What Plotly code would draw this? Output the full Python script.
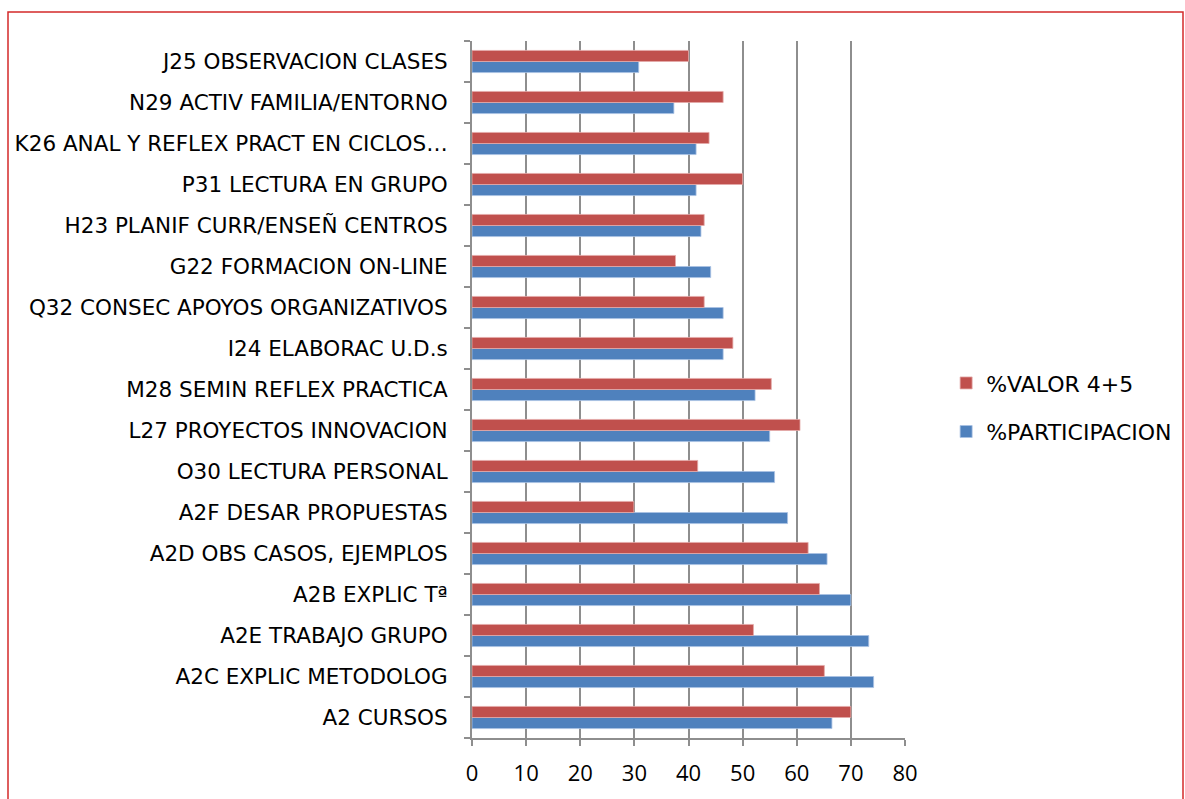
import plotly.graph_objects as go

# Categories listed bottom-to-top as they appear on the y axis
categories = [
    "A2 CURSOS",
    "A2C EXPLIC METODOLOG",
    "A2E TRABAJO GRUPO",
    "A2B EXPLIC Tª",
    "A2D OBS CASOS, EJEMPLOS",
    "A2F DESAR PROPUESTAS",
    "O30 LECTURA PERSONAL",
    "L27 PROYECTOS INNOVACION",
    "M28 SEMIN REFLEX PRACTICA",
    "I24 ELABORAC U.D.s",
    "Q32 CONSEC APOYOS ORGANIZATIVOS",
    "G22 FORMACION ON-LINE",
    "H23 PLANIF CURR/ENSEÑ CENTROS",
    "P31 LECTURA EN GRUPO",
    "K26 ANAL Y REFLEX PRACT EN CICLOS…",
    "N29 ACTIV FAMILIA/ENTORNO",
    "J25 OBSERVACION CLASES",
]

participacion = [66.5, 74.2, 73.3, 70.0, 65.6, 58.3, 55.9, 55.0, 52.3, 46.4,
                 46.4, 44.1, 42.3, 41.4, 41.4, 37.3, 30.8]
valor_4_5 = [70.0, 65.1, 52.0, 64.2, 62.1, 29.9, 41.7, 60.6, 55.3, 48.2,
             42.9, 37.6, 42.9, 50.0, 43.8, 46.4, 40.0]

x_ticks = [0, 10, 20, 30, 40, 50, 60, 70, 80]

FONT = "'DejaVu Sans', 'Open Sans', sans-serif"

fig = go.Figure()
fig.add_trace(go.Bar(
    y=categories, x=participacion, orientation="h", name="%PARTICIPACION",
    legendgroup="part", legendrank=2,
    marker=dict(color="#4F81BD", line=dict(color="#a9c2e3", width=0.8)),
))
fig.add_trace(go.Bar(
    y=categories, x=valor_4_5, orientation="h", name="%VALOR 4+5",
    legendgroup="valor", legendrank=1,
    marker=dict(color="#C0504D", line=dict(color="#e3aaa8", width=0.8)),
))

fig.update_layout(
    width=1185, height=799,
    margin=dict(l=472, r=280, t=41, b=61, autoexpand=False),
    paper_bgcolor="white", plot_bgcolor="white",
    barmode="group", bargap=0.46, bargroupgap=0,
    font=dict(family=FONT, size=21.5, color="#000000"),
    showlegend=True,
    legend=dict(
        traceorder="grouped",
        x=1.095, y=0.474, xanchor="left", yanchor="middle",
        font=dict(family=FONT, size=22, color="#000000"),
        itemwidth=30, tracegroupgap=17,
        bgcolor="rgba(0,0,0,0)",
    ),
    xaxis=dict(
        range=[0, 80], tickvals=x_ticks, ticktext=[str(v) for v in x_ticks],
        showgrid=True, gridcolor="#8e8e8e", gridwidth=2,
        showline=True, linecolor="#8e8e8e", linewidth=2,
        ticks="outside", ticklen=6, tickcolor="#8e8e8e", tickwidth=2,
        tickfont=dict(family="'Open Sans', sans-serif", size=22, color="#000000"),
        ticklabelstandoff=9,
        zeroline=False, fixedrange=True,
    ),
    yaxis=dict(
        categoryorder="array", categoryarray=categories,
        showline=True, linecolor="#8e8e8e", linewidth=2,
        ticks="outside", ticklen=6, tickcolor="#8e8e8e", tickwidth=2,
        tickson="boundaries",
        tickfont=dict(family=FONT, size=21.5, color="#000000"),
        ticklabelstandoff=18,
        showgrid=False, fixedrange=True,
    ),
    shapes=[dict(
        type="rect", xref="paper", yref="paper",
        x0=(8 - 472) / 433, x1=(1183 - 472) / 433,
        y0=(738 - 810) / 697, y1=(738 - 12) / 697,
        line=dict(color="#d42a2a", width=1.5), fillcolor="rgba(0,0,0,0)",
        layer="below",
    )],
)

fig.write_html("out.html")
